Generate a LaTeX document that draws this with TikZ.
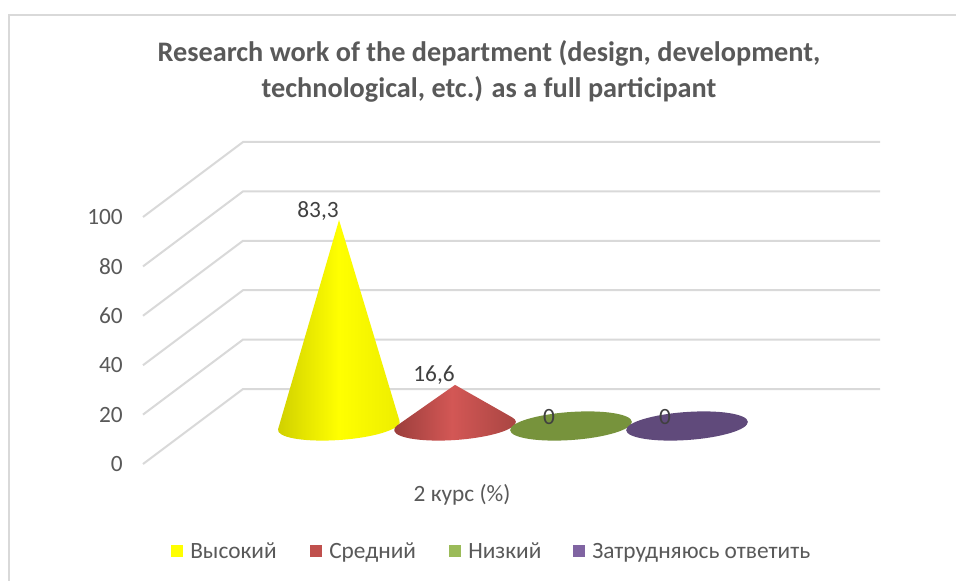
\documentclass[tikz,border=0pt]{standalone}
\usepackage{fontspec}
\setmainfont{Carlito}
\definecolor{txt}{HTML}{595959}
\definecolor{lbl}{HTML}{404040}
\definecolor{gridc}{HTML}{D9D9D9}
\definecolor{yel}{HTML}{FFFF00}
\definecolor{yeldark}{HTML}{CFCF00}
\definecolor{yelmid}{HTML}{EDED00}
\definecolor{redc}{HTML}{C0504D}
\definecolor{reddark}{HTML}{943B39}
\definecolor{redmid}{HTML}{D35755}
\definecolor{redright}{HTML}{A84542}
\definecolor{grnc}{HTML}{9BBB59}
\definecolor{grndisc}{HTML}{77933C}
\definecolor{purc}{HTML}{8064A2}
\definecolor{purdisc}{HTML}{604A7B}
\newcommand{\pxfont}[1]{\fontsize{#1}{#1}\selectfont}
\tikzset{
  gridline/.style={draw=gridc, line width=1.5pt},
  axislbl/.style={anchor=east, text=txt, font=\pxfont{17.5pt}, inner sep=0pt},
  datalbl/.style={text=lbl, font=\pxfont{17.5pt}, inner sep=0pt},
  legsq/.style={minimum size=8.5pt, inner sep=0pt},
  legtxt/.style={anchor=base west, text=txt, font=\pxfont{17.5pt}, inner sep=0pt},
}
\begin{document}
\begin{tikzpicture}[x=0.75pt,y=-0.75pt]
\useasboundingbox (0,0) rectangle (956,581);
\fill[white] (0,0) rectangle (956,581);
% chart frame
\draw[draw=gridc, line width=1.5pt] (9,581) -- (9,15) -- (956,15);
% title
\node[text=txt, font=\bfseries\pxfont{21.2pt}, align=center] (title) at (489,71.5)
  {Research work of the department (design, development,\\[5.5pt] technological, etc.) as a full participant};
% grid lines and axis labels
\foreach \v in {0,20,40,60,80,100}{
  \pgfmathsetmacro{\yy}{389-2.47*\v}
  \pgfmathsetmacro{\yf}{\yy+75}
  \draw[gridline] (143,\yf) -- (243,\yy) -- (880,\yy);
  \node[axislbl] (ax\v) at (123,\yf) {\v};
}
% yellow cone
\begin{scope}[shift={(339,426)}, rotate=4]
  \shade[left color=yeldark, right color=yelmid, middle color=yel]
    (14.4,-205.5) -- (-61,-1) arc[start angle=184, end angle=-4, x radius=61, y radius=14] -- cycle;
\end{scope}
% red cone
\begin{scope}[shift={(455,426)}, rotate=4]
  \shade[left color=reddark, right color=redright, middle color=redmid]
    (2.9,-41) -- (-57.3,-4.8) arc[start angle=200, end angle=-20, x radius=61, y radius=14] -- cycle;
\end{scope}
% green disc
\fill[grndisc, rotate around={4:(571,426)}] (571,426) ellipse[x radius=61, y radius=14];
% purple disc
\fill[purdisc, rotate around={4:(687,426)}] (687,426) ellipse[x radius=61, y radius=14];
% data labels
\node[datalbl] (d1) at (318,211) {83,3};
\node[datalbl] (d2) at (434,375) {16,6};
\node[datalbl] (d3) at (549,417) {0};
\node[datalbl] (d4) at (665,417) {0};
% axis title
\node[text=txt, font=\pxfont{17.5pt}, inner sep=0pt] (xt) at (462,495) {2 курс (\%)};
% legend
\node[legsq, fill=yel] (s1) at (177,551) {};
\node[legtxt] (t1) at (190,558) {Высокий};
\node[legsq, fill=redc] (s2) at (316,551) {};
\node[legtxt] (t2) at (329,558) {Средний};
\node[legsq, fill=grnc] (s3) at (455,551) {};
\node[legtxt] (t3) at (468,558) {Низкий};
\node[legsq, fill=purc] (s4) at (579,551) {};
\node[legtxt] (t4) at (592,558) {Затрудняюсь ответить};
\end{tikzpicture}
\end{document}
